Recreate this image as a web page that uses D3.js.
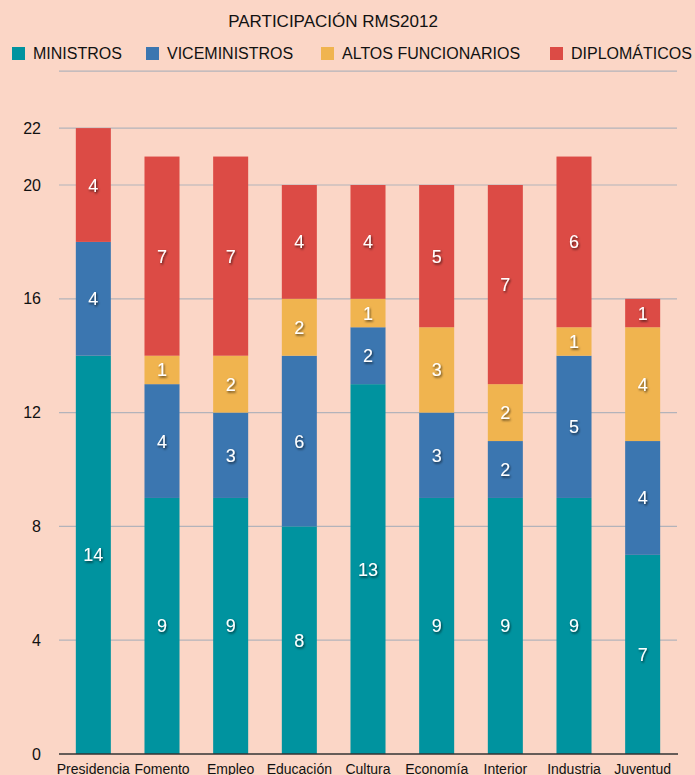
<!DOCTYPE html>
<html>
<head>
<meta charset="utf-8">
<script src="https://cdn.jsdelivr.net/npm/d3@7"></script>
<style>
  html, body { margin: 0; padding: 0; background: #FBD6C6; }
  svg { display: block; font-family: "Liberation Sans", Arial, Helvetica, sans-serif; }
</style>
</head>
<body>
<svg id="chart" width="695" height="775"></svg>
<script>
const categories = ["Presidencia", "Fomento", "Empleo", "Educación", "Cultura", "Economía", "Interior", "Industria", "Juventud"];
const seriesNames = ["MINISTROS", "VICEMINISTROS", "ALTOS FUNCIONARIOS", "DIPLOMÁTICOS"];
const ministros = [14, 9, 9, 8, 13, 9, 9, 9, 7];
const viceministros = [4, 4, 3, 6, 2, 3, 2, 5, 4];
const altosFuncionarios = [0, 1, 2, 2, 1, 3, 2, 1, 4];
const diplomaticos = [4, 7, 7, 4, 4, 5, 7, 6, 1];
const gridValues = [4, 8, 12, 16, 20, 22, 24];
const tickLabels = [0, 4, 8, 12, 16, 20, 22];
const colors = ["#00939F", "#3B76B0", "#F0B44F", "#DC4B45"];
const title = "PARTICIPACIÓN RMS2012";

const svg = d3.select("#chart");
const W = 695, H = 775;
svg.append("rect").attr("width", W).attr("height", H).attr("fill", "#FBD6C6");

const defs = svg.append("defs");
const f = defs.append("filter").attr("id", "shadow").attr("x", "-50%").attr("y", "-50%").attr("width", "200%").attr("height", "200%");
f.append("feDropShadow").attr("dx", 1).attr("dy", 1.5).attr("stdDeviation", 1).attr("flood-color", "#000").attr("flood-opacity", 0.65);

const x = d3.scaleBand().domain(categories).range([59, 677]).paddingInner(0.49).paddingOuter(0.245);
const y = d3.scaleLinear().domain([0, 24]).range([754, 71.2]);

// title
svg.append("text").attr("x", 333).attr("y", 27).attr("text-anchor", "middle")
  .attr("font-size", 17).attr("fill", "#111").text(title);

// legend
const legendX = [12, 146, 321, 550];
seriesNames.forEach((n, i) => {
  const g = svg.append("g").attr("transform", `translate(${legendX[i]},0)`);
  g.append("rect").attr("x", 0).attr("y", 47).attr("width", 13).attr("height", 13).attr("fill", colors[i]);
  g.append("text").attr("x", 21).attr("y", 59).attr("font-size", 16).attr("fill", "#111").text(n);
});

// gridlines
svg.append("g").selectAll("line").data(gridValues).join("line")
  .attr("x1", 59).attr("x2", 677)
  .attr("y1", d => y(d)).attr("y2", d => y(d))
  .attr("stroke", "#B3B3BA").attr("stroke-width", 1.2);

// y tick labels
svg.append("g").selectAll("text").data(tickLabels).join("text")
  .attr("x", 41).attr("y", d => y(d) + 5.5).attr("text-anchor", "end")
  .attr("font-size", 16).attr("fill", "#111").text(d => d);

// stacked data
const rows = categories.map((c, i) => ({
  cat: c,
  MINISTROS: ministros[i],
  VICEMINISTROS: viceministros[i],
  "ALTOS FUNCIONARIOS": altosFuncionarios[i],
  "DIPLOMÁTICOS": diplomaticos[i]
}));
const stack = d3.stack().keys(seriesNames)(rows);

const layers = svg.append("g").selectAll("g").data(stack).join("g")
  .attr("fill", (d, i) => colors[i]);
layers.selectAll("rect").data(d => d).join("rect")
  .attr("x", d => x(d.data.cat))
  .attr("width", x.bandwidth())
  .attr("y", d => y(d[1]))
  .attr("height", d => y(d[0]) - y(d[1]));

// labels
const labelG = svg.append("g");
stack.forEach(layer => {
  layer.forEach(d => {
    const v = d[1] - d[0];
    if (v <= 0) return;
    labelG.append("text")
      .attr("x", x(d.data.cat) + x.bandwidth() / 2)
      .attr("y", y((d[0] + d[1]) / 2) + 6.5)
      .attr("text-anchor", "middle")
      .attr("font-size", 18)
      .attr("fill", "#fff")
      .attr("filter", "url(#shadow)")
      .text(v);
  });
});

// axis line
svg.append("line").attr("x1", 59).attr("x2", 678).attr("y1", y(0)).attr("y2", y(0))
  .attr("stroke", "#333").attr("stroke-width", 1.5);

// category labels
svg.append("g").selectAll("text").data(categories).join("text")
  .attr("x", d => x(d) + x.bandwidth() / 2)
  .attr("y", 773.5)
  .attr("text-anchor", "middle")
  .attr("font-size", 14)
  .attr("fill", "#111")
  .text(d => d);
</script>
</body>
</html>
